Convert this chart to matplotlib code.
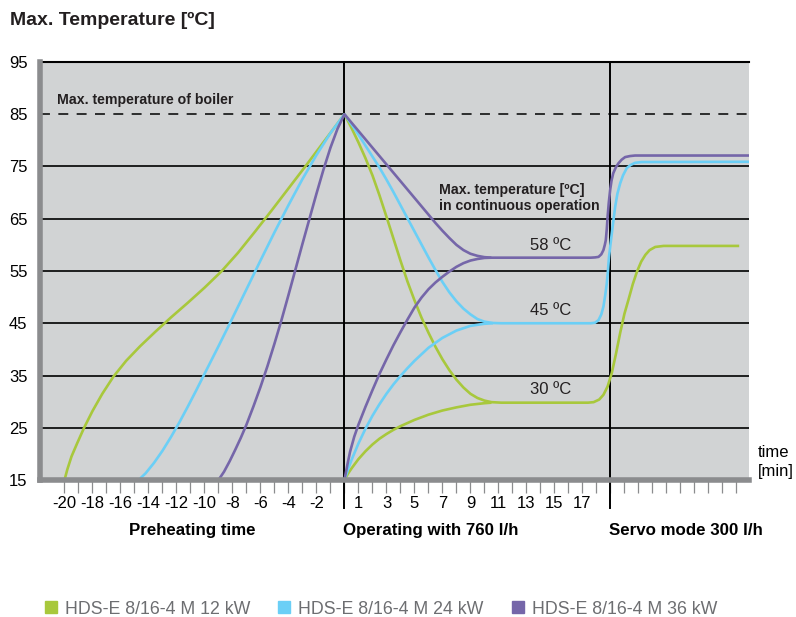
import matplotlib
matplotlib.use("Agg")
import matplotlib.pyplot as plt
from matplotlib.lines import Line2D

plt.rcParams['font.family'] = ['Liberation Sans', 'DejaVu Sans']

# ---------------- data ----------------
series_names = ["HDS-E 8/16-4 M 12 kW", "HDS-E 8/16-4 M 24 kW", "HDS-E 8/16-4 M 36 kW"]
series_colors = ["#a8c83c", "#6bcff6", "#7566a9"]

# main branch: preheating -> peak -> cooling to plateau -> servo mode
green_main_t = [-20, -19.8, -19.5, -19.1, -18.6, -18.0, -17.3, -16.5, -15.6, -14.6, -13.5, -12.4, -11.2, -10.0,
                -8.8, -7.6, -6.4, -5.2, -4.0, -2.8, -1.4, 0,
                0.5, 1.0, 1.5, 2.0, 2.5, 3.0, 3.5, 4.0, 4.5, 5.0, 5.5, 6.0, 6.5, 7.0, 7.5, 8.0, 8.5, 9.0,
                9.5, 10.0, 10.5, 11.2,
                17.4, 17.8, 18.2, 18.5, 18.8, 19.1, 19.4, 19.7, 20.0, 20.3, 20.6, 20.9, 21.2, 21.5, 21.8,
                22.2, 22.8, 28.2]
green_main_T = [15, 17, 19.5, 22, 25, 28.2, 31.5, 34.8, 37.8, 40.6, 43.4, 46.1, 48.9, 51.8,
                54.9, 58.5, 62.5, 66.6, 70.8, 75.0, 80.0, 85,
                82.4, 79.6, 76.6, 73.3, 69.5, 65.4, 61.2, 57.0, 53.0, 49.4, 46.1, 43.2, 40.5, 38.1, 36.0,
                34.2, 32.7, 31.5, 30.7, 30.2, 29.9, 29.8,
                29.8, 29.9, 30.4, 31.3, 32.9, 35.5, 39.2, 43.2, 46.8, 49.6, 52.5, 54.9, 56.8, 58.1, 59.0,
                59.6, 59.8, 59.8]

blue_main_t = [-14.7, -14.2, -13.6, -13.0, -12.4, -11.8, -11.2, -10.6, -10.0, -9.0, -8.0, -7.0, -6.0, -5.0,
               -4.0, -3.0, -2.0, -1.0, 0,
               0.5, 1.0, 1.5, 2.0, 2.5, 3.0, 3.5, 4.0, 4.5, 5.0, 5.5, 6.0, 6.5, 7.0, 7.5, 8.0, 8.5, 9.0,
               9.5, 10.0, 10.6, 11.2,
               17.6, 17.9, 18.15, 18.35, 18.5, 18.62, 18.74, 18.82, 18.9, 19.0, 19.1, 19.22, 19.34, 19.5,
               19.7, 19.9, 20.17, 20.45, 20.76, 21.2, 28.9]
blue_main_T = [15, 16.3, 18.3, 20.6, 23.2, 26.0, 29.0, 32.1, 35.3, 40.6, 46.0, 51.5, 57.0, 62.4,
               67.6, 72.6, 77.2, 81.4, 85,
               83.1, 81.1, 79.0, 76.9, 74.8, 72.5, 70.1, 67.6, 65.1, 62.6, 60.1, 57.6, 55.2, 52.9, 50.9,
               49.2, 47.8, 46.7, 45.8, 45.3, 45.05, 45.0,
               45.0, 45.1, 45.6, 46.7, 48.2, 50.2, 52.6, 55.0, 57.7, 60.0, 62.2, 64.8, 67.3, 69.8,
               71.8, 73.3, 74.7, 75.3, 75.7, 75.85, 75.9]

purple_main_t = [-9.0, -8.6, -8.2, -7.8, -7.4, -7.0, -6.5, -6.0, -5.5, -5.0, -4.5, -4.0, -3.5, -3.0, -2.5,
                 -2.0, -1.5, -1.0, -0.5, 0,
                 0.5, 1.0, 1.5, 2.0, 2.5, 3.0, 3.5, 4.0, 4.5, 5.0, 5.5, 6.0, 6.5, 7.0, 7.5, 8.0, 8.5,
                 9.0, 9.5, 10.0, 10.5,
                 17.6, 17.9, 18.15, 18.35, 18.5, 18.6, 18.67, 18.74, 18.8, 18.88, 18.98, 19.08, 19.2,
                 19.38, 19.57, 19.8, 20.05, 20.4, 20.76, 28.9]
purple_main_T = [15, 16.6, 18.6, 20.8, 23.1, 25.6, 29.1, 32.8, 36.8, 41.1, 45.6, 50.4, 55.3, 60.2, 65.0,
                 69.8, 74.4, 78.6, 82.2, 85,
                 83.4, 81.8, 80.2, 78.6, 77.0, 75.4, 73.8, 72.2, 70.6, 69.0, 67.4, 65.8, 64.2, 62.7,
                 61.3, 60.0, 59.0, 58.3, 57.9, 57.65, 57.55,
                 57.55, 57.6, 57.7, 58.2, 59.0, 60.0, 60.9, 63.0, 65.4, 68.0, 70.5, 72.3, 73.7,
                 74.8, 75.6, 76.3, 76.8, 77.0, 77.1, 77.1]

# second branch: cold start at operating begin -> plateau
green_rise_t = [0, 0.25, 0.5, 1.0, 1.5, 2.0, 2.5, 3.0, 3.5, 4.0, 5.0, 6.0, 7.0, 8.0, 9.0, 10.0, 10.5]
green_rise_T = [15, 16.2, 17.2, 19.0, 20.5, 21.8, 22.9, 23.8, 24.6, 25.3, 26.5, 27.5, 28.3, 28.9, 29.4,
                29.7, 29.8]

blue_rise_t = [0, 0.25, 0.5, 1.0, 1.5, 2.0, 2.5, 3.0, 3.5, 4.0, 4.5, 5.0, 6.0, 7.0, 8.0, 9.0, 10.0, 10.6]
blue_rise_T = [15, 17.0, 18.8, 22.0, 24.8, 27.3, 29.5, 31.5, 33.3, 34.9, 36.4, 37.8, 40.3, 42.2, 43.6,
               44.5, 44.9, 45.0]

purple_rise_t = [0, 0.2, 0.4, 0.7, 1.0, 1.5, 2.0, 2.5, 3.0, 3.5, 4.0, 4.5, 5.0, 5.5, 6.0, 6.5, 7.0, 7.5,
                 8.0, 8.5, 9.0, 9.5, 10.0, 10.5]
purple_rise_T = [15, 17.8, 20.4, 23.3, 25.6, 29.0, 32.2, 35.3, 38.1, 40.8, 43.3, 45.7, 48.0, 49.9, 51.5,
                 52.8, 53.9, 54.9, 55.8, 56.5, 57.0, 57.3, 57.5, 57.55]

plateau_labels = ["30 ºC", "45 ºC", "58 ºC"]
plateau_label_T = [32.4, 47.4, 59.8]

y_ticks = [15, 25, 35, 45, 55, 65, 75, 85, 95]
x_ticks = list(range(-20, 29))
x_tick_labels = {-20: "-20", -18: "-18", -16: "-16", -14: "-14", -12: "-12", -10: "-10", -8: "-8",
                 -6: "-6", -4: "-4", -2: "-2", 1: "1", 3: "3", 5: "5", 7: "7", 9: "9", 11: "11",
                 13: "13", 15: "15", 17: "17"}
boiler_max = 85
phase_starts = [0, 19]
phase_names = ["Preheating time", "Operating with 760 l/h", "Servo mode 300 l/h"]

# ---------------- figure ----------------
fig = plt.figure(figsize=(7.96, 6.17), dpi=100)
W, H = 796, 617
ax_left, ax_right, ax_top, ax_bottom = 40, 749, 62, 480
ax = fig.add_axes([ax_left / W, 1 - ax_bottom / H, (ax_right - ax_left) / W, (ax_bottom - ax_top) / H])
ax.set_facecolor("#d1d3d4")
ax.set_xlim(-21.75, 28.9)
ax.set_ylim(15, 95)

# horizontal grid lines
for yv in y_ticks[1:-2]:
    ax.axhline(yv, color="black", lw=1.2, zorder=1)
ax.axhline(boiler_max, color="black", lw=1.1, dashes=(6.5, 5.5), zorder=1)

# phase separators (extend below the axis)
for xv in phase_starts:
    ax.axvline(xv, ymin=-0.068, ymax=1, color="black", lw=1.4, clip_on=False, zorder=2)

mains = [(green_main_t, green_main_T), (blue_main_t, blue_main_T), (purple_main_t, purple_main_T)]
rises = [(green_rise_t, green_rise_T), (blue_rise_t, blue_rise_T), (purple_rise_t, purple_rise_T)]
for (mt, mT), (rt, rT), c in zip(mains, rises, series_colors):
    ax.plot(mt, mT, color=c, lw=1.9, solid_joinstyle="round", solid_capstyle="butt", zorder=3)
    ax.plot(rt, rT, color=c, lw=1.9, solid_joinstyle="round", solid_capstyle="butt", zorder=3)

# spines
for s in ["left", "bottom"]:
    ax.spines[s].set_color("#8b8c8e")
    ax.spines[s].set_linewidth(4.0)
    ax.spines[s].set_zorder(4)
ax.spines["top"].set_color("black")
ax.spines["top"].set_linewidth(1.5)
ax.spines["right"].set_visible(False)

ax.set_yticks(y_ticks)
ax.set_yticklabels([str(v) for v in y_ticks])
ax.tick_params(axis="y", length=0, pad=9, labelsize=12, labelcolor="black")
ax.set_xticks(x_ticks)
ax.set_xticklabels([x_tick_labels.get(v, "") for v in x_ticks])
ax.tick_params(axis="x", length=9, width=0.9, color="#8b8c8e", pad=2.5, labelsize=12, direction="out")

# annotations
ax.text(-20.5, 87.7, "Max. temperature of boiler", fontsize=10.2, fontweight="bold",
        ha="left", va="center", color="#231f20")
ax.text(6.75, 69.0, "Max. temperature [ºC]\nin continuous operation", fontsize=10.2, fontweight="bold",
        ha="left", va="center", color="#231f20", linespacing=1.2)
for lab, yv in zip(plateau_labels, plateau_label_T):
    ax.text(13.25, yv, lab, fontsize=12, ha="left", va="center", color="#231f20")

trans = ax.get_xaxis_transform()
ax.text(-10.9, -0.12, phase_names[0], transform=trans, fontsize=12.2, fontweight="bold",
        ha="center", va="center", clip_on=False)
ax.text(phase_starts[0] - 0.1, -0.12, phase_names[1], transform=trans, fontsize=12.2, fontweight="bold",
        ha="left", va="center", clip_on=False)
ax.text(phase_starts[1] - 0.1, -0.12, phase_names[2], transform=trans, fontsize=12.2, fontweight="bold",
        ha="left", va="center", clip_on=False)
ax.text(1.012, 0.043, "time\n[min]", transform=ax.transAxes, fontsize=12, ha="left", va="center",
        linespacing=1.3, clip_on=False)

fig.text(10 / W, 1 - 20 / H, "Max. Temperature [ºC]", fontsize=14, fontweight="bold",
         ha="left", va="center", color="#231f20")

handles = [Line2D([], [], marker="s", linestyle="none", markersize=8, color=c) for c in series_colors]
leg = fig.legend(handles, series_names, loc="center left", bbox_to_anchor=(42 / W, 1 - 609 / H),
                 ncol=3, frameon=False, fontsize=12.8, handletextpad=0.3, columnspacing=1.4,
                 handlelength=1.0, borderpad=0, borderaxespad=0)
for t in leg.get_texts():
    t.set_color("#6d6e71")

fig.savefig("out.png", dpi=100)
